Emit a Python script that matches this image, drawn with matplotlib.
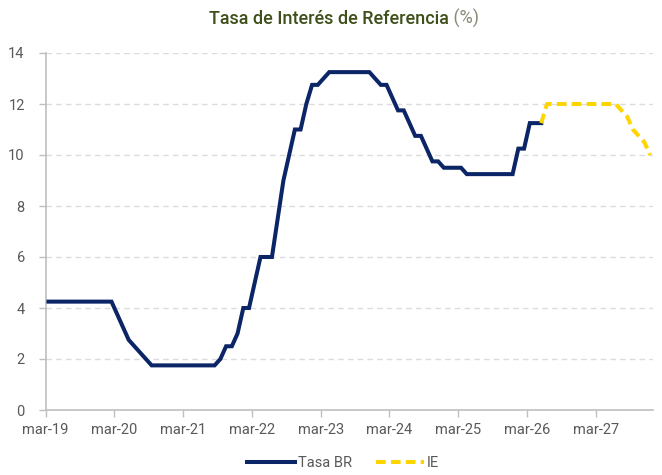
import matplotlib
matplotlib.use("Agg")
import matplotlib.pyplot as plt
from matplotlib.lines import Line2D
import numpy as np

# ---------------- data ----------------
tick_labels = ["mar-19", "mar-20", "mar-21", "mar-22", "mar-23",
               "mar-24", "mar-25", "mar-26", "mar-27"]
# monthly, starting mar-19
tasa_br = ([4.25] * 12 +
           [3.75, 3.25, 2.75, 2.5, 2.25, 2.0] +
           [1.75] * 12 +
           [2.0, 2.5, 2.5, 3.0, 4.0, 4.0, 5.0, 6.0, 6.0, 6.0, 7.5, 9.0, 10.0,
            11.0, 11.0, 12.0, 12.75, 12.75, 13.0] +
           [13.25] * 8 +
           [13.0, 12.75, 12.75, 12.25, 11.75, 11.75, 11.25, 10.75, 10.75,
            10.25, 9.75, 9.75, 9.5, 9.5, 9.5, 9.5] +
           [9.25] * 9 +
           [10.25, 10.25, 11.25, 11.25, 11.25])
ie_start = len(tasa_br) - 1
ie = ([11.25] + [12.0] * 13 + [11.75, 11.5, 11.0, 10.75, 10.5, 10.0])
y_ticks = [0, 2, 4, 6, 8, 10, 12, 14]

# ---------------- style ----------------
FONT = ["Roboto", "DejaVu Sans"]
plt.rcParams["font.family"] = FONT
NAVY = "#0b2566"
YELLOW = "#FFD500"
AXIS_GRAY = "#bfbfbf"
TXT_GRAY = "#595959"

fig = plt.figure(figsize=(6.62, 4.75), dpi=100)
ax = fig.add_axes([45.6 / 662, 1 - 410 / 475, (653 - 45.6) / 662, (410 - 53) / 475])

x_br = np.arange(len(tasa_br)) + 0.5
x_ie = np.arange(ie_start, ie_start + len(ie)) + 0.5

for y in y_ticks[1:]:
    ax.axhline(y, color="#dcdcdc", lw=1.0, ls=(0, (4, 3)), zorder=0)

ax.plot(x_br, tasa_br, color=NAVY, lw=2.9, solid_joinstyle="miter", zorder=3)
ax.plot(x_ie, ie, color=YELLOW, lw=2.9, ls=(0, (2.4, 1.3)), dash_capstyle="butt", zorder=3)

ax.set_xlim(0, 106)
ax.set_ylim(0, 14)
ax.set_xticks(np.arange(len(tick_labels)) * 12)
ax.set_xticklabels(tick_labels)
ax.set_yticks(y_ticks)

for s in ["top", "right"]:
    ax.spines[s].set_visible(False)
for s in ["left", "bottom"]:
    ax.spines[s].set_color(AXIS_GRAY)
    ax.spines[s].set_linewidth(1.2)

ax.tick_params(axis="both", colors=AXIS_GRAY, labelcolor=TXT_GRAY,
               labelsize=10.5, length=5, width=1)
ax.tick_params(axis="x", pad=4)
ax.tick_params(axis="y", pad=10)

# title (two colours)
fig.canvas.draw()
r = fig.canvas.get_renderer()
t1 = fig.text(0, 0, "Tasa de Interés de Referencia", fontsize=13,
              color="#3f4f1a", fontweight="medium")
t2 = fig.text(0, 0, " (%)", fontsize=13, color="#8a8a78")
w1 = t1.get_window_extent(r).width
w2 = t2.get_window_extent(r).width
cx = 344
x0 = cx - (w1 + w2) / 2
ybase = 475 - 24
t1.set_position((x0 / 662, ybase / 475))
t2.set_position(((x0 + w1) / 662, ybase / 475))

handles = [Line2D([], [], color=NAVY, lw=2.9),
           Line2D([], [], color=YELLOW, lw=2.9, ls=(0, (2.4, 1.3)))]
fig.legend(handles, ["Tasa BR", "IE"], loc="center", bbox_to_anchor=(343 / 662, 1 - 463 / 475),
           ncol=2, frameon=False, fontsize=10.5, handlelength=3.3, handletextpad=0.2,
           columnspacing=1.6, labelcolor=TXT_GRAY)

fig.savefig("out.png", dpi=100)
